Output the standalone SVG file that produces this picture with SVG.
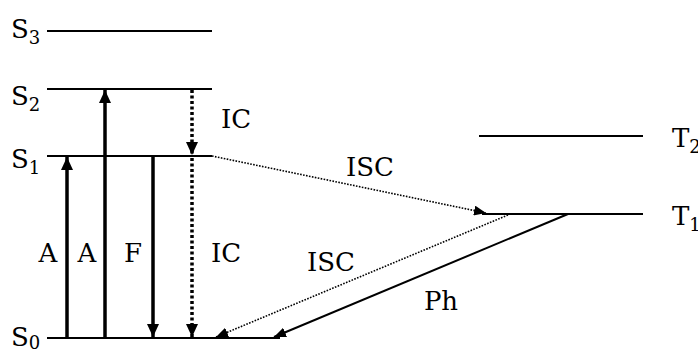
<svg xmlns="http://www.w3.org/2000/svg" width="698" height="351" viewBox="0 0 698 351">
<style>
.lbl{font-size:26px;font-family:'DejaVu Serif','Liberation Serif','Times New Roman',serif}
.mid{text-anchor:middle}
.sub{font-size:18px}
.lvl{stroke:#000;stroke-width:2;fill:none}
.thick{stroke:#000;stroke-width:3.5;fill:none}
.dot{stroke:#000;stroke-width:3.5;fill:none;stroke-dasharray:3 2.5}
.thin{stroke:#000;stroke-width:1.6;fill:none;stroke-dasharray:1.6 1.4}
.solid{stroke:#000;stroke-width:2;fill:none}
</style>
<defs>
<marker id="big" markerUnits="userSpaceOnUse" markerWidth="14" markerHeight="12" refX="13" refY="6" orient="auto"><path d="M0,0 L13,6 L0,12 Z" fill="#000"/></marker>
<marker id="small" markerUnits="userSpaceOnUse" markerWidth="13" markerHeight="10" refX="12" refY="5" orient="auto"><path d="M0,0 L12,5 L0,10 Z" fill="#000"/></marker>
</defs>
<g id="S3"><line class="lvl" x1="47" y1="31" x2="212" y2="31"/><text class="lbl" x="11" y="38">S<tspan class="sub" dy="6">3</tspan></text></g>
<g id="S2"><line class="lvl" x1="47" y1="89" x2="212" y2="89"/><text class="lbl" x="11" y="105">S<tspan class="sub" dy="6">2</tspan></text></g>
<g id="S1"><line class="lvl" x1="47" y1="156" x2="212" y2="156"/><text class="lbl" x="11" y="168">S<tspan class="sub" dy="6">1</tspan></text></g>
<g id="S0"><line class="lvl" x1="47" y1="338" x2="280" y2="338"/><text class="lbl" x="11" y="346">S<tspan class="sub" dy="3">0</tspan></text></g>
<g id="T2"><line class="lvl" x1="479" y1="136" x2="643" y2="136"/><text class="lbl" x="672" y="147">T<tspan class="sub" dy="6">2</tspan></text></g>
<g id="T1"><line class="lvl" x1="482" y1="214" x2="643" y2="214"/><text class="lbl" x="672" y="225">T<tspan class="sub" dy="6">1</tspan></text></g>
<g id="connectors">
<line class="thick" x1="67" y1="338" x2="67" y2="157" marker-end="url(#big)"/>
<line class="thick" x1="105" y1="338" x2="105" y2="90" marker-end="url(#big)"/>
<line class="thick" x1="153" y1="156" x2="153" y2="337" marker-end="url(#big)"/>
<line class="dot" x1="192" y1="90" x2="192" y2="155" marker-end="url(#big)"/>
<line class="dot" x1="192" y1="158" x2="192" y2="337" marker-end="url(#big)"/>
<line class="thin" x1="212" y1="156" x2="486" y2="213" marker-end="url(#small)"/>
<line class="thin" x1="508" y1="215" x2="216" y2="337" marker-end="url(#small)"/>
<line class="solid" x1="568" y1="214" x2="274" y2="337" marker-end="url(#small)"/>
</g>
<g id="labels">
<text class="lbl mid" x="48" y="262">A</text>
<text class="lbl mid" x="87" y="262">A</text>
<text class="lbl mid" x="133" y="262">F</text>
<text class="lbl mid" x="226" y="262">IC</text>
<text class="lbl mid" x="236" y="128">IC</text>
<text class="lbl mid" x="370" y="176">ISC</text>
<text class="lbl mid" x="331" y="271">ISC</text>
<text class="lbl mid" x="441" y="310">Ph</text>
</g>
</svg>
